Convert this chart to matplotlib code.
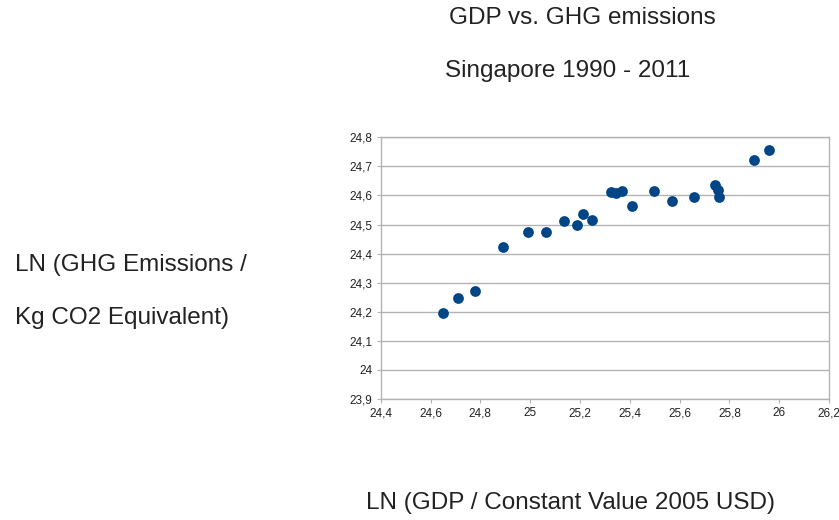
import matplotlib
matplotlib.use("Agg")
import matplotlib.pyplot as plt

plt.rcParams['font.family'] = ['Liberation Sans', 'DejaVu Sans']

ln_gdp = [24.649, 24.711, 24.780, 24.890, 24.993, 25.063, 25.134, 25.188, 25.213, 25.250,
          25.324, 25.344, 25.368, 25.409, 25.498, 25.571, 25.658, 25.743, 25.753, 25.760,
          25.897, 25.958]
ln_ghg = [24.196, 24.249, 24.273, 24.422, 24.473, 24.473, 24.513, 24.498, 24.537, 24.514,
          24.612, 24.610, 24.614, 24.564, 24.614, 24.582, 24.596, 24.635, 24.619, 24.594,
          24.722, 24.755]

x_ticks = [24.4, 24.6, 24.8, 25.0, 25.2, 25.4, 25.6, 25.8, 26.0, 26.2]
x_tick_labels = ["24,4", "24,6", "24,8", "25", "25,2", "25,4", "25,6", "25,8", "26", "26,2"]
y_ticks = [23.9, 24.0, 24.1, 24.2, 24.3, 24.4, 24.5, 24.6, 24.7, 24.8]
y_tick_labels = ["23,9", "24", "24,1", "24,2", "24,3", "24,4", "24,5", "24,6", "24,7", "24,8"]

fig = plt.figure(figsize=(8.39, 5.20), dpi=100)
ax = fig.add_axes([0.4538, 0.2327, 0.5343, 0.5033])

ax.scatter(ln_gdp, ln_ghg, s=60, color='#004586', zorder=3, linewidths=0)

ax.set_xlim(24.4, 26.2)
ax.set_ylim(23.9, 24.8)
ax.set_xticks(x_ticks)
ax.set_xticklabels(x_tick_labels)
ax.set_yticks(y_ticks)
ax.set_yticklabels(y_tick_labels)
ax.yaxis.grid(True, color='#b3b3b3', linewidth=1.0)
ax.set_axisbelow(True)
for s in ax.spines.values():
    s.set_color('#b3b3b3')
    s.set_linewidth(1.0)
ax.tick_params(axis='both', length=3, color='#b3b3b3', labelsize=8.5, labelcolor='#222222', pad=3)

fig.text(0.694, 1 - 18/520, "GDP vs. GHG emissions", ha='center', va='center', fontsize=17.5, color='#222222')
fig.text(0.676, 1 - 71/520, "Singapore 1990 - 2011", ha='center', va='center', fontsize=17.5, color='#222222')
fig.text(15/839, 1 - 265/520, "LN (GHG Emissions /", ha='left', va='center', fontsize=17.5, color='#222222')
fig.text(15/839, 1 - 318/520, "Kg CO2 Equivalent)", ha='left', va='center', fontsize=17.5, color='#222222')
fig.text(570/839, 1 - 503/520, "LN (GDP / Constant Value 2005 USD)", ha='center', va='center', fontsize=17.5, color='#222222')

fig.savefig("out.png", dpi=100, facecolor='white')
